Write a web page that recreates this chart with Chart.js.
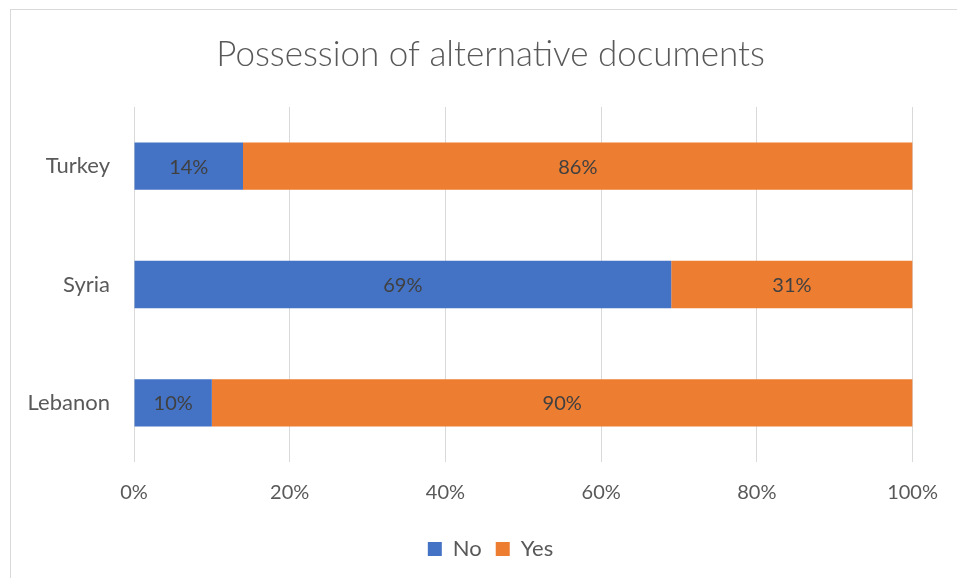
<!DOCTYPE html>
<html>
<head>
<meta charset="utf-8">
<script src="https://cdn.jsdelivr.net/npm/chart.js@4"></script>
<style>
  body { margin: 0; background: #fff; }
  #wrap { width: 957px; height: 578px; }
</style>
</head>
<body>
<div id="wrap"><canvas id="graph" width="957" height="578"></canvas></div>
<script>
// donnees
const pays = ['Turkey', 'Syria', 'Lebanon'];
const non = [14, 69, 10];
const oui = [86, 31, 90];
const graduations = ['0%', '20%', '40%', '60%', '80%', '100%'];

// cadre gris autour du graphique + etiquettes des barres
const cadreEtLabels = {
  id: 'cadreEtLabels',
  beforeDraw(chart) {
    const ctx = chart.ctx;
    ctx.save();
    ctx.strokeStyle = '#d9d9d9';
    ctx.lineWidth = 1;
    ctx.strokeRect(10.5, 9.5, 1000, 1000);
    ctx.restore();
  },
  afterDatasetsDraw(chart) {
    const ctx = chart.ctx;
    ctx.save();
    ctx.font = '20px Lato';
    ctx.fillStyle = '#404040';
    ctx.textAlign = 'center';
    ctx.textBaseline = 'middle';
    chart.data.datasets.forEach((ds, i) => {
      chart.getDatasetMeta(i).data.forEach((bar, j) => {
        const p = bar.getCenterPoint();
        ctx.fillText(ds.data[j] + '%', p.x, p.y + 1);
      });
    });
    ctx.restore();
  }
};

new Chart(document.getElementById('graph'), {
  type: 'bar',
  data: {
    labels: pays,
    datasets: [
      { label: 'No', data: non, backgroundColor: '#4472c4', barPercentage: 0.4, categoryPercentage: 1 },
      { label: 'Yes', data: oui, backgroundColor: '#ed7d31', barPercentage: 0.4, categoryPercentage: 1 }
    ]
  },
  options: {
    indexAxis: 'y',
    responsive: false,
    animation: false,
    // le graphique d'origine est plus large que l'image : titre et legende centres vers 490px
    layout: { padding: { left: 24, right: 0, top: 0, bottom: 8 } },
    plugins: {
      title: {
        display: true,
        text: 'Possession of alternative documents',
        color: '#595959',
        font: { family: 'Lato', size: 35, weight: '300' },
        padding: { top: 34, bottom: 31 }
      },
      legend: {
        position: 'bottom',
        labels: {
          color: '#595959',
          font: { family: 'Lato', size: 22 },
          boxWidth: 14,
          boxHeight: 14,
          padding: 14
        }
      },
      tooltip: { enabled: false }
    },
    scales: {
      x: {
        stacked: true,
        min: 0,
        max: 100,
        grid: { color: '#d9d9d9', drawTicks: false },
        border: { display: false },
        ticks: {
          stepSize: 20,
          color: '#595959',
          font: { family: 'Lato', size: 20 },
          padding: 19,
          callback: (v, i) => graduations[i]
        }
      },
      y: {
        stacked: true,
        grid: { display: false, drawTicks: false },
        border: { display: false },
        ticks: {
          color: '#595959',
          font: { family: 'Lato', size: 22 },
          padding: 24
        },
        afterFit: (s) => { s.width = 110; }
      },
      // axe vide a droite pour garder la marge
      marge: {
        type: 'category',
        labels: pays,
        position: 'right',
        grid: { display: false, drawTicks: false },
        border: { display: false },
        ticks: { display: false },
        afterFit: (s) => { s.width = 44; }
      }
    }
  },
  plugins: [cadreEtLabels]
});
</script>
</body>
</html>
